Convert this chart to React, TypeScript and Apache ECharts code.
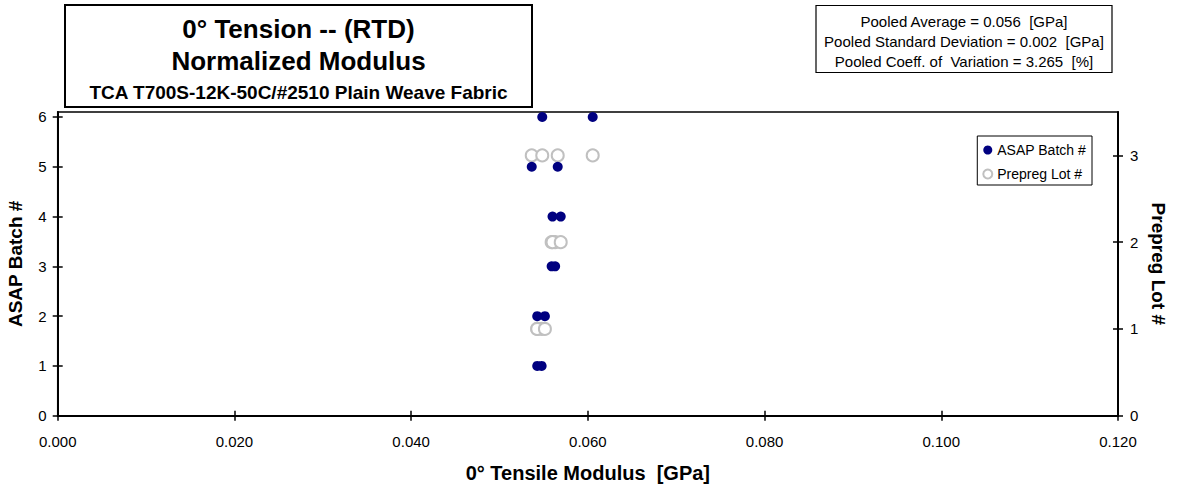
import React, { useEffect, useRef } from "react";
import * as echarts from "echarts";

// ---- data ----
const asapModulus = [0.05427, 0.05477, 0.05427, 0.05514, 0.0559, 0.0563, 0.056, 0.05693, 0.05365, 0.05659, 0.05484, 0.06055];
const asapBatch = [1, 1, 2, 2, 3, 3, 4, 4, 5, 5, 6, 6];
const lotModulus = [0.05427, 0.05477, 0.05427, 0.05514, 0.0559, 0.0563, 0.056, 0.05693, 0.05365, 0.05659, 0.05484, 0.06055];
const lotNumber = [1, 1, 1, 1, 2, 2, 2, 2, 3, 3, 3, 3];
const xTicks = [0, 0.02, 0.04, 0.06, 0.08, 0.1, 0.12];
const leftTicks = [0, 1, 2, 3, 4, 5, 6];
const rightTicks = [0, 1, 2, 3];
const titleLines = ["0° Tension -- (RTD)", "Normalized Modulus", "TCA T700S-12K-50C/#2510 Plain Weave Fabric"];
const statLines = [
  "Pooled Average = 0.056  [GPa]",
  "Pooled Standard Deviation = 0.002  [GPa]",
  "Pooled Coeff. of  Variation = 3.265  [%]",
];

const FONT = "'Liberation Sans', Arial, sans-serif";

export default function App() {
  const ref = useRef<HTMLDivElement>(null);
  useEffect(() => {
    if (!ref.current) return;
    const chart = echarts.init(ref.current, undefined, { renderer: "svg" });
    const axisLine = { show: true, onZero: false, lineStyle: { color: "#000", width: 2 } };
    const label = { color: "#000", fontSize: 15, fontFamily: FONT };
    const option: any = {
      animation: false,
      backgroundColor: "#fff",
      textStyle: { fontFamily: FONT },
      grid: {
        left: 57.7,
        right: 66,
        top: 112,
        bottom: 74.3,
        containLabel: false,
        outerBoundsMode: "none",
        show: true,
        borderColor: "#000",
        borderWidth: 1.5,
        backgroundColor: "transparent",
      },
      xAxis: [
        {
          type: "value",
          position: "bottom",
          min: 0,
          max: 0.12,
          interval: 0.02,
          axisLine,
          splitLine: { show: false },
          axisTick: { show: true, inside: false, length: 5, customValues: xTicks, lineStyle: { color: "#000", width: 1.5 } },
          axisLabel: { ...label, margin: 18, customValues: xTicks, formatter: (v: number) => v.toFixed(3) },
          name: "0° Tensile Modulus  [GPa]",
          nameLocation: "middle",
          nameGap: 47,
          nameTextStyle: { color: "#000", fontSize: 20, fontWeight: "bold", fontFamily: FONT, lineHeight: 20 },
        },
        {
          type: "value",
          position: "bottom",
          min: 0,
          max: 0.12,
          interval: 0.02,
          axisLine: { ...axisLine, show: false },
          splitLine: { show: false },
          axisTick: { show: true, inside: true, length: 5, customValues: xTicks, lineStyle: { color: "#000", width: 1.5 } },
          axisLabel: { show: false },
        },
      ],
      yAxis: [
        {
          type: "value",
          position: "left",
          min: 0,
          max: 6.1,
          interval: 1,
          axisLine,
          splitLine: { show: false },
          axisTick: { show: true, inside: false, length: 5, customValues: leftTicks, lineStyle: { color: "#000", width: 1.5 } },
          axisLabel: { ...label, margin: 11, customValues: leftTicks },
          name: "ASAP Batch #",
          nameLocation: "middle",
          nameRotate: 90,
          nameGap: 33,
          nameTextStyle: { color: "#000", fontSize: 19, fontWeight: "bold", fontFamily: FONT, lineHeight: 19 },
        },
        {
          type: "value",
          position: "left",
          min: 0,
          max: 6.1,
          interval: 1,
          axisLine: { ...axisLine, show: false },
          splitLine: { show: false },
          axisTick: { show: true, inside: true, length: 5, customValues: leftTicks, lineStyle: { color: "#000", width: 1.5 } },
          axisLabel: { show: false },
        },
        {
          type: "value",
          position: "right",
          min: 0,
          max: 3.5,
          interval: 1,
          axisLine,
          splitLine: { show: false },
          axisTick: { show: true, inside: false, length: 5, customValues: rightTicks, lineStyle: { color: "#000", width: 1.5 } },
          axisLabel: { ...label, margin: 12, customValues: rightTicks },
          name: "Prepreg Lot #",
          nameLocation: "middle",
          nameRotate: -90,
          nameGap: 28,
          nameTextStyle: { color: "#000", fontSize: 19, fontWeight: "bold", fontFamily: FONT, lineHeight: 19 },
        },
        {
          type: "value",
          position: "right",
          min: 0,
          max: 3.5,
          interval: 1,
          axisLine: { ...axisLine, show: false },
          splitLine: { show: false },
          axisTick: { show: true, inside: true, length: 5, customValues: rightTicks, lineStyle: { color: "#000", width: 1.5 } },
          axisLabel: { show: false },
        },
      ],
      legend: {
        orient: "vertical",
        right: 92,
        top: 136,
        padding: [7, 6, 4, 5],
        itemGap: 10,
        itemWidth: 9,
        itemHeight: 10,
        borderColor: "#000",
        borderWidth: 1,
        backgroundColor: "#fff",
        textStyle: { color: "#000", fontSize: 14, fontFamily: FONT },
        data: ["ASAP Batch #", "Prepreg Lot #"],
      },
      series: [
        {
          name: "ASAP Batch #",
          type: "scatter",
          xAxisIndex: 0,
          yAxisIndex: 0,
          symbol: "circle",
          symbolSize: 10,
          itemStyle: { color: "#000080", opacity: 1 },
          data: asapModulus.map((v, i) => [v, asapBatch[i]]),
          z: 3,
        },
        {
          name: "Prepreg Lot #",
          type: "scatter",
          xAxisIndex: 0,
          yAxisIndex: 2,
          symbol: "emptyCircle",
          symbolSize: 12,
          itemStyle: { color: "#c0c0c0", borderColor: "#c0c0c0", borderWidth: 1.5, opacity: 1 },
          data: lotModulus.map((v, i) => [v, lotNumber[i]]),
          z: 2,
        },
      ],
      graphic: [
        {
          type: "rect",
          shape: { x: 65, y: 5, width: 467, height: 102 },
          style: { fill: "#fff", stroke: "#000", lineWidth: 2 },
          z: 10,
        },
        ...titleLines.map((t, i) => ({
          type: "text",
          x: 298.5,
          y: [29, 60.5, 92.5][i],
          z: 11,
          style: {
            text: t,
            fill: "#000",
            font: `bold ${i < 2 ? 26 : 19}px ${FONT}`,
            textAlign: "center",
            textVerticalAlign: "middle",
            align: "center",
            verticalAlign: "middle",
          },
        })),
        {
          type: "rect",
          shape: { x: 816, y: 5.5, width: 296, height: 67 },
          style: { fill: "#fff", stroke: "#000", lineWidth: 1.2 },
          z: 10,
        },
        ...statLines.map((t, i) => ({
          type: "text",
          x: 964,
          y: [21, 41, 61][i],
          z: 11,
          style: {
            text: t,
            fill: "#000",
            font: `15px ${FONT}`,
            textAlign: "center",
            textVerticalAlign: "middle",
            align: "center",
            verticalAlign: "middle",
          },
        })),
      ],
    };
    chart.setOption(option);
    return () => chart.dispose();
  }, []);
  return (
    <div
      ref={ref}
      style={{ position: "fixed", left: 0, top: 0, width: 1184, height: 490, background: "#fff" }}
    />
  );
}
